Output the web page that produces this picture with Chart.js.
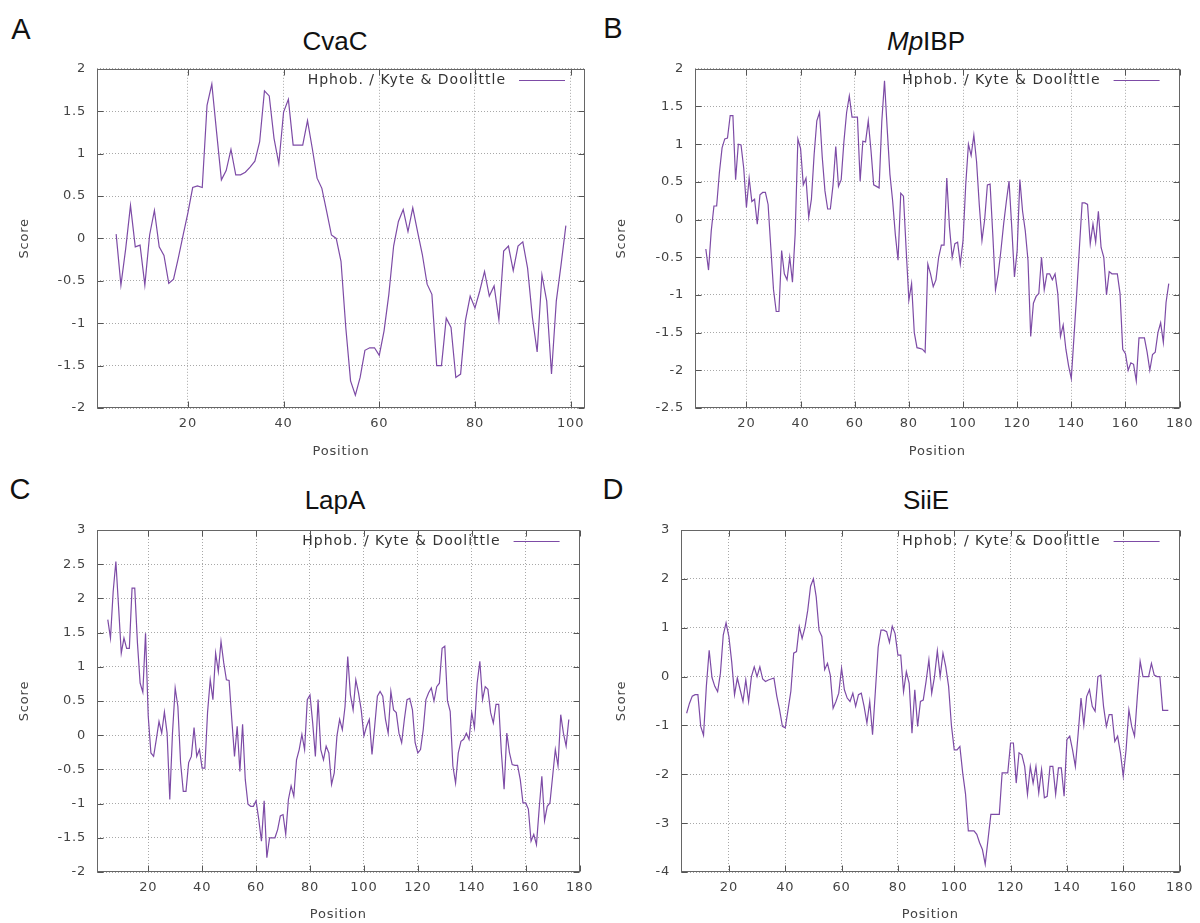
<!DOCTYPE html>
<html><head><meta charset="utf-8">
<script src="https://cdn.jsdelivr.net/npm/chart.js@4.4.0/dist/chart.umd.min.js"></script>
<style>
html,body{margin:0;padding:0;background:#fff;width:1200px;height:923px;overflow:hidden;}
canvas{position:absolute;}
.lbl{position:absolute;font-family:"Liberation Sans",Arial,sans-serif;color:#111;white-space:nowrap;transform:translate(-50%,-50%);line-height:1;}
</style></head><body>
<div class="lbl" style="left:21px;top:29px;font-size:29px">A</div>
<div class="lbl" style="left:335px;top:41px;font-size:26px">CvaC</div>
<div class="lbl" style="left:613px;top:28px;font-size:29px">B</div>
<div class="lbl" style="left:926px;top:41px;font-size:26px"><i>Mp</i>IBP</div>
<div class="lbl" style="left:20px;top:489px;font-size:29px">C</div>
<div class="lbl" style="left:335px;top:500px;font-size:26px">LapA</div>
<div class="lbl" style="left:613px;top:489px;font-size:29px">D</div>
<div class="lbl" style="left:926px;top:500px;font-size:26px">SiiE</div>
<canvas id="cA" width="600" height="420" style="left:0px;top:50px"></canvas>
<canvas id="cB" width="602" height="420" style="left:598px;top:50px"></canvas>
<canvas id="cC" width="600" height="413" style="left:0px;top:510px"></canvas>
<canvas id="cD" width="602" height="413" style="left:598px;top:510px"></canvas>
<script>
// ---- data ----
const seriesLabel = 'Hphob. / Kyte & Doolittle';
const firstPosition = 5; // first window-centred residue
const xTicksA = [20, 40, 60, 80, 100];
const xTicksLong = [20, 40, 60, 80, 100, 120, 140, 160, 180];
const yTicksA = [-2, -1.5, -1, -0.5, 0, 0.5, 1, 1.5, 2];
const yTicksB = [-2.5, -2, -1.5, -1, -0.5, 0, 0.5, 1, 1.5, 2];
const yTicksC = [-2, -1.5, -1, -0.5, 0, 0.5, 1, 1.5, 2, 2.5, 3];
const yTicksD = [-4, -3, -2, -1, 0, 1, 2, 3];

const cvacScore = [0.05,-0.55,-0.12,0.39,-0.1,-0.08,-0.55,0.04,0.33,-0.1,
-0.2,-0.53,-0.48,-0.23,0.04,0.3,0.6,0.62,0.6,1.57,
1.82,1.25,0.69,0.8,1.05,0.75,0.75,0.78,0.84,0.91,
1.14,1.74,1.68,1.18,0.88,1.49,1.64,1.1,1.1,1.1,
1.39,1.06,0.71,0.59,0.32,0.04,0.0,-0.27,-1.05,-1.68,
-1.85,-1.64,-1.32,-1.29,-1.29,-1.38,-1.09,-0.66,-0.09,0.2,
0.34,0.08,0.36,0.08,-0.19,-0.54,-0.66,-1.5,-1.5,-0.94,
-1.05,-1.64,-1.6,-0.97,-0.68,-0.82,-0.62,-0.39,-0.68,-0.56,
-0.96,-0.15,-0.09,-0.38,-0.09,-0.04,-0.35,-0.93,-1.34,-0.43,
-0.74,-1.6,-0.74,-0.31,0.15];

const mpibpScore = [-0.39,-0.67,-0.15,0.18,0.18,0.62,0.95,1.07,1.08,1.38,
1.38,0.53,1.0,0.99,0.68,0.16,0.55,0.24,0.27,-0.06,
0.33,0.36,0.36,0.2,-0.37,-0.93,-1.22,-1.22,-0.41,-0.72,
-0.8,-0.5,-0.83,-0.19,1.07,0.94,0.46,0.55,0.03,0.27,
0.86,1.31,1.42,0.83,0.38,0.14,0.14,0.46,0.97,0.44,
0.53,1.03,1.42,1.64,1.36,1.36,1.36,0.51,1.04,1.03,
1.31,0.92,0.46,0.44,0.42,1.3,1.84,1.2,0.6,0.25,
-0.2,-0.54,0.35,0.31,-0.4,-1.07,-0.85,-1.5,-1.7,-1.71,
-1.72,-1.76,-0.59,-0.72,-0.89,-0.8,-0.5,-0.34,-0.34,0.55,
-0.1,-0.5,-0.32,-0.3,-0.59,-0.28,0.46,1.0,0.85,1.12,
0.77,0.2,-0.28,0.0,0.46,0.47,-0.2,-0.93,-0.72,-0.41,
-0.06,0.24,0.51,-0.1,-0.76,-0.41,0.53,0.11,-0.15,-0.54,
-1.55,-1.11,-1.02,-0.98,-0.5,-0.93,-0.72,-0.72,-0.8,-0.72,
-0.98,-1.55,-1.4,-1.72,-1.94,-2.11,-1.55,-0.98,-0.37,0.22,
0.22,0.2,-0.32,-0.06,-0.3,0.11,-0.37,-0.5,-1.0,-0.69,
-0.72,-0.72,-0.72,-0.98,-1.72,-1.78,-2.0,-1.9,-1.92,-2.14,
-1.57,-1.57,-1.57,-1.76,-2.0,-1.79,-1.76,-1.5,-1.37,-1.63,
-1.1,-0.85];

const lapaScore = [1.69,1.42,2.1,2.54,1.88,1.2,1.42,1.27,1.27,2.15,
2.15,1.35,0.76,0.63,1.49,0.28,-0.26,-0.31,-0.06,0.2,
0.03,0.34,0.03,-0.94,0.03,0.69,0.42,-0.4,-0.82,-0.82,
-0.4,-0.31,0.11,-0.31,-0.21,-0.48,-0.48,0.33,0.81,0.52,
1.2,0.93,1.37,1.06,0.81,0.8,0.23,-0.31,0.13,-0.53,
0.16,-0.65,-1.01,-1.04,-1.04,-0.96,-1.23,-1.55,-0.96,-1.79,
-1.5,-1.5,-1.5,-1.38,-1.18,-1.16,-1.45,-0.94,-0.74,-0.89,
-0.36,-0.21,0.01,-0.21,0.52,0.59,0.18,-0.31,0.52,-0.21,
-0.36,-0.16,-0.26,-0.72,-0.55,-0.01,0.23,0.08,0.42,1.15,
0.59,0.37,0.81,0.62,0.37,-0.01,0.13,0.23,-0.28,0.13,
0.57,0.64,0.57,0.23,0.03,0.64,0.37,0.33,0.03,-0.11,
0.23,0.52,0.54,0.37,-0.11,-0.26,-0.21,0.08,0.52,0.62,
0.69,0.5,0.71,0.76,1.27,1.3,0.5,0.35,-0.45,-0.7,
-0.26,-0.09,-0.06,0.03,-0.06,0.33,0.11,0.76,1.08,0.52,
0.71,0.67,0.33,0.18,0.45,0.45,-0.26,-0.79,0.03,-0.26,
-0.43,-0.44,-0.44,-0.65,-0.99,-0.99,-1.08,-1.55,-1.45,-1.6,
-1.08,-0.6,-1.25,-1.04,-0.99,-0.6,-0.21,-0.45,0.3,0.03,
-0.16,0.23];

const siieScore = [-0.75,-0.55,-0.4,-0.37,-0.37,-1.02,-1.2,-0.2,0.54,-0.02,
-0.2,-0.31,0.07,0.85,1.1,0.82,0.3,-0.37,-0.03,-0.27,
-0.51,-0.07,-0.51,0.0,0.2,0.0,0.2,-0.05,-0.1,-0.07,
-0.05,-0.03,-0.4,-0.68,-1.02,-1.05,-0.68,-0.3,0.48,0.51,
1.02,0.78,1.0,1.36,1.85,2.0,1.63,0.95,0.82,0.14,
0.27,0.03,-0.65,-0.51,-0.34,0.17,-0.27,-0.44,-0.51,-0.34,
-0.61,-0.37,-0.34,-0.61,-0.95,-0.51,-1.19,-0.3,0.6,0.95,
0.95,0.92,0.7,1.03,0.88,0.44,0.44,-0.31,0.1,-0.14,
-1.16,-0.27,-1.02,-0.51,-0.48,-0.1,0.34,-0.34,0.0,0.53,
0.0,0.48,0.2,-0.2,-1.0,-1.5,-1.5,-1.43,-1.97,-2.4,
-3.16,-3.16,-3.16,-3.23,-3.4,-3.54,-3.84,-3.33,-2.82,-2.82,
-2.82,-2.82,-1.97,-1.97,-1.97,-1.36,-1.36,-2.18,-1.56,-1.6,
-1.84,-2.41,-1.84,-2.18,-1.84,-2.38,-1.9,-2.48,-2.45,-1.84,
-1.84,-2.41,-1.87,-1.87,-2.45,-1.29,-1.22,-1.5,-1.84,-1.16,
-0.44,-0.99,-0.41,-0.27,-0.61,-0.71,0.0,0.03,-0.61,-1.02,
-0.78,-0.78,-1.33,-1.22,-1.56,-2.04,-1.5,-0.68,-1.02,-1.22,
-0.41,0.31,0.0,0.0,0.0,0.27,0.03,0.0,0.0,-0.69,
-0.69,-0.69];

// ---- drawing ----
const LINE = '#7d4ba6';
const AXIS_FONT = {family: '"DejaVu Sans", Verdana, sans-serif', size: 13};
const TEXT = '#444';

function toPoints(values) {
  return values.map((v, i) => ({x: firstPosition + i, y: v}));
}

const gnuStyle = {
  id: 'gnuStyle',
  beforeDraw(chart) { chart.ctx.letterSpacing = '0.8px'; },
  afterDatasetsDraw(chart) {
    const {ctx, chartArea: a, scales: {x, y}} = chart;
    ctx.save();
    ctx.setLineDash([]);
    ctx.strokeStyle = '#555';
    ctx.lineWidth = 1;
    const L = Math.round(a.left) + 0.5, R = Math.round(a.right) - 0.5;
    const T = Math.round(a.top) + 0.5, B = Math.round(a.bottom) - 0.5;
    ctx.beginPath();
    x.ticks.forEach(t => {
      const px = Math.round(x.getPixelForValue(t.value)) + 0.5;
      ctx.moveTo(px, B); ctx.lineTo(px, B - 6);
      ctx.moveTo(px, T); ctx.lineTo(px, T + 6);
    });
    y.ticks.forEach(t => {
      const py = Math.round(y.getPixelForValue(t.value)) + 0.5;
      ctx.moveTo(L, py); ctx.lineTo(L + 6, py);
      ctx.moveTo(R, py); ctx.lineTo(R - 6, py);
    });
    ctx.stroke();
    ctx.strokeStyle = '#666';
    ctx.strokeRect(L, T, R - L, B - T);
    // key inside the plot, top right
    const ds = chart.data.datasets[0];
    const ly = Math.round(a.top + 11) + 0.5;
    const lx2 = a.right - 20, lx1 = lx2 - 46;
    ctx.strokeStyle = ds.borderColor;
    ctx.lineWidth = 1.2;
    ctx.beginPath(); ctx.moveTo(lx1, ly); ctx.lineTo(lx2, ly); ctx.stroke();
    ctx.font = '14px "DejaVu Sans", Verdana, sans-serif';
    ctx.fillStyle = '#333';
    ctx.textAlign = 'right';
    ctx.textBaseline = 'middle';
    ctx.letterSpacing = '1px';
    ctx.fillText(ds.label, lx1 - 13, ly);
    ctx.restore();
  }
};

function makePanel(id, cfg) {
  new Chart(document.getElementById(id), {
    type: 'line',
    data: {datasets: [{
      label: seriesLabel, data: toPoints(cfg.values),
      borderColor: LINE, borderWidth: 1.2, pointRadius: 0, tension: 0, fill: false
    }]},
    options: {
      responsive: false, animation: false,
      layout: {padding: {top: cfg.padTop, right: cfg.padRight, left: 0, bottom: 0}},
      plugins: {legend: {display: false}, tooltip: {enabled: false}},
      scales: {
        x: {
          type: 'linear', min: cfg.xMin, max: cfg.xMax,
          afterBuildTicks: s => { s.ticks = cfg.xTicks.map(v => ({value: v})); },
          afterFit: s => { s.height = cfg.xHeight; },
          grid: {color: '#a8a8a8', lineWidth: 1, drawTicks: false},
          border: {display: false, dash: [1, 2]},
          ticks: {font: AXIS_FONT, color: TEXT, padding: 8, maxRotation: 0, autoSkip: false,
                  callback: v => String(v)},
          title: {display: true, text: 'Position', font: AXIS_FONT, color: TEXT,
                  padding: {top: 0, bottom: cfg.xTitlePad}}
        },
        y: {
          type: 'linear', min: cfg.yTicks[0], max: cfg.yTicks[cfg.yTicks.length - 1],
          afterBuildTicks: s => { s.ticks = cfg.yTicks.map(v => ({value: v})); },
          afterFit: s => { s.width = cfg.yWidth; },
          grid: {color: '#a8a8a8', lineWidth: 1, drawTicks: false},
          border: {display: false, dash: [1, 2]},
          ticks: {font: AXIS_FONT, color: TEXT, padding: 11, autoSkip: false,
                  callback: v => String(v)},
          title: {display: true, text: 'Score', font: AXIS_FONT, color: TEXT,
                  padding: {top: cfg.yTitlePad, bottom: 0}}
        }
      }
    },
    plugins: [gnuStyle]
  });
}

makePanel('cA', {values: cvacScore, xMin: 1, xMax: 103, xTicks: xTicksA, yTicks: yTicksA,
  padTop: 17, padRight: 15, yWidth: 97, xHeight: 62, yTitlePad: 17, xTitlePad: 11});
makePanel('cB', {values: mpibpScore, xMin: 1, xMax: 180, xTicks: xTicksLong, yTicks: yTicksB,
  padTop: 16, padRight: 18, yWidth: 97, xHeight: 62, yTitlePad: 16, xTitlePad: 11});
makePanel('cC', {values: lapaScore, xMin: 1, xMax: 180, xTicks: xTicksLong, yTicks: yTicksC,
  padTop: 20, padRight: 15, yWidth: 97, xHeight: 51, yTitlePad: 17, xTitlePad: 1});
makePanel('cD', {values: siieScore, xMin: 3, xMax: 180, xTicks: xTicksLong, yTicks: yTicksD,
  padTop: 20, padRight: 18, yWidth: 83, xHeight: 51, yTitlePad: 16, xTitlePad: 1});
</script>
</body></html>
